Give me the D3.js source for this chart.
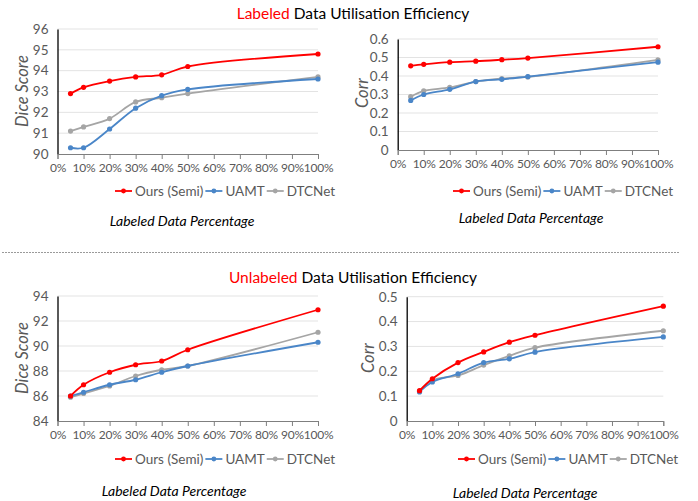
<!DOCTYPE html>
<html><head><meta charset="utf-8">
<script src="https://cdn.jsdelivr.net/npm/d3@7"></script>
<style>
body{margin:0;background:#fff;}
svg{display:block;font-family:Lato,"Open Sans",sans-serif;}
</style></head>
<body><svg id="c" width="698" height="501"></svg>
<script>
const xValues = [5, 10, 20, 30, 40, 50, 100];
const xTicks = [0,10,20,30,40,50,60,70,80,90,100];
const seriesNames = ["Ours (Semi)", "UAMT", "DTCNet"];
const seriesColors = ["#ff0000", "#4a86c8", "#a5a5a5"];

// Top-left: Labeled, Dice
const labDiceOurs = [92.9, 93.2, 93.5, 93.7, 93.8, 94.2, 94.8];
const labDiceUAMT = [90.3, 90.3, 91.2, 92.2, 92.8, 93.1, 93.6];
const labDiceDTC  = [91.1, 91.3, 91.7, 92.5, 92.7, 92.9, 93.7];
const labDiceTicks = [90, 91, 92, 93, 94, 95, 96];
// Top-right: Labeled, Corr
const labCorrOurs = [0.455, 0.463, 0.475, 0.480, 0.488, 0.497, 0.558];
const labCorrUAMT = [0.268, 0.300, 0.328, 0.370, 0.382, 0.397, 0.475];
const labCorrDTC  = [0.288, 0.320, 0.338, 0.370, 0.386, 0.395, 0.487];
const labCorrTicks = [0, 0.1, 0.2, 0.3, 0.4, 0.5, 0.6];
// Bottom-left: Unlabeled, Dice
const unlDiceOurs = [86.0, 86.9, 87.9, 88.5, 88.8, 89.7, 92.9];
const unlDiceUAMT = [86.0, 86.3, 86.9, 87.3, 87.9, 88.4, 90.3];
const unlDiceDTC  = [85.9, 86.2, 86.8, 87.6, 88.1, 88.4, 91.1];
const unlDiceTicks = [84, 86, 88, 90, 92, 94];
// Bottom-right: Unlabeled, Corr
const unlCorrOurs = [0.122, 0.170, 0.235, 0.278, 0.317, 0.345, 0.462];
const unlCorrUAMT = [0.117, 0.157, 0.190, 0.235, 0.250, 0.277, 0.338];
const unlCorrDTC  = [0.120, 0.165, 0.183, 0.225, 0.262, 0.295, 0.363];
const unlCorrTicks = [0, 0.1, 0.2, 0.3, 0.4, 0.5];

const svg = d3.select("#c");

function panel(o){
  const x = d3.scaleLinear().domain([0,100]).range([o.x0, o.x1]);
  const y = d3.scaleLinear().domain([o.ticks[0], o.ticks[o.ticks.length-1]]).range([o.y0, o.y1]);
  const g = svg.append("g");
  // grid
  g.append("g").selectAll("line").data(o.ticks.slice(1)).join("line")
    .attr("x1", o.x0).attr("x2", o.x1).attr("y1", d=>y(d)).attr("y2", d=>y(d))
    .attr("stroke", "#e3e3e3").attr("stroke-width", 1);
  // y axis
  const ya = g.append("g").attr("transform", `translate(${o.x0},0)`)
    .call(d3.axisLeft(y).tickValues(o.ticks).tickSize(0).tickPadding(9).tickFormat(d3.format("~g")));
  ya.select(".domain").attr("stroke", "#000").attr("stroke-width", 1.3);
  ya.selectAll("text").attr("font-size", 13.5).attr("fill", "#595959").attr("font-family", "Lato,sans-serif");
  // x axis
  const xa = g.append("g").attr("transform", `translate(0,${o.y0})`)
    .call(d3.axisBottom(x).tickValues(xTicks).tickSize(5).tickPadding(4).tickFormat(d=>d+"%"));
  xa.select(".domain").attr("stroke", "#7f7f7f").attr("stroke-width", 1);
  xa.selectAll(".tick line").attr("stroke", "#7f7f7f");
  xa.selectAll("text").attr("font-size", 12).attr("letter-spacing", -0.2).attr("fill", "#595959").attr("font-family", "Lato,sans-serif");
  // lines
  const line = d3.line().x((d,i)=>x(xValues[i])).y(d=>y(d)).curve(d3.curveCatmullRom.alpha(0.5));
  [2,1,0].forEach(k=>{
    const s = o.series[k];
    g.append("path").attr("d", line(s)).attr("fill","none")
      .attr("stroke", seriesColors[k]).attr("stroke-width", 1.8);
    g.append("g").selectAll("circle").data(s).join("circle")
      .attr("cx", (d,i)=>x(xValues[i])).attr("cy", d=>y(d)).attr("r", 2.6)
      .attr("fill", seriesColors[k]);
  });
  // legend
  const lg = g.append("g").attr("transform", `translate(${o.legX},${o.legY})`);
  let cx = 0;
  seriesNames.forEach((n,k)=>{
    lg.append("line").attr("x1", cx).attr("x2", cx+17).attr("y1",0).attr("y2",0)
      .attr("stroke", seriesColors[k]).attr("stroke-width", 1.8);
    lg.append("circle").attr("cx", cx+8.5).attr("cy", 0).attr("r", 2.4).attr("fill", seriesColors[k]);
    const t = lg.append("text").attr("x", cx+20).attr("y", 0).attr("dy","0.35em")
      .attr("font-size", 13.5).attr("fill", "#595959").text(n);
    cx += 20 + t.node().getComputedTextLength() + 2;
  });
  // axis titles
  g.append("text").attr("transform", `translate(${o.yTitleX},${o.yTitleY}) rotate(-90)`)
    .attr("text-anchor","middle").attr("dy","0.35em").attr("font-size", 16.5).attr("font-style","italic")
    .attr("fill", "#595959").text(o.yTitle);
  g.append("text").attr("x", o.xTitleX).attr("y", o.xTitleY).attr("text-anchor","middle").attr("dy","0.35em")
    .attr("font-size", 14).attr("font-style","italic").attr("fill","#000").text("Labeled Data Percentage");
}

function title(cxp, cy, red){
  const t = svg.append("text").attr("x", cxp).attr("y", cy).attr("text-anchor","middle").attr("dy","0.35em")
    .attr("font-size", 15.5);
  t.append("tspan").attr("fill","#ff0000").text(red);
  t.append("tspan").attr("fill","#000").text(" Data Utilisation Efficiency");
}

title(353, 14, "Labeled");
title(353, 278, "Unlabeled");

svg.append("line").attr("x1", 2).attr("x2", 679).attr("y1", 252.5).attr("y2", 252.5)
  .attr("stroke", "#9a9a9a").attr("stroke-width", 1).attr("stroke-dasharray", "2,1");

panel({x0:57.5, x1:318, y0:154, y1:29, ticks:labDiceTicks, series:[labDiceOurs, labDiceUAMT, labDiceDTC],
  legX:115, legY:191, yTitle:"Dice Score", yTitleX:22, yTitleY:91, xTitleX:182, xTitleY:221});
panel({x0:397.7, x1:658, y0:150, y1:39, ticks:labCorrTicks, series:[labCorrOurs, labCorrUAMT, labCorrDTC],
  legX:453, legY:191, yTitle:"Corr", yTitleX:362, yTitleY:93, xTitleX:531, xTitleY:218});
panel({x0:57.5, x1:318, y0:421, y1:296, ticks:unlDiceTicks, series:[unlDiceOurs, unlDiceUAMT, unlDiceDTC],
  legX:115, legY:459, yTitle:"Dice Score", yTitleX:22, yTitleY:358, xTitleX:174, xTitleY:491});
panel({x0:406.7, x1:663.3, y0:421, y1:296.7, ticks:unlCorrTicks, series:[unlCorrOurs, unlCorrUAMT, unlCorrDTC],
  legX:458, legY:459, yTitle:"Corr", yTitleX:368, yTitleY:358, xTitleX:525, xTitleY:493});
</script></body></html>
